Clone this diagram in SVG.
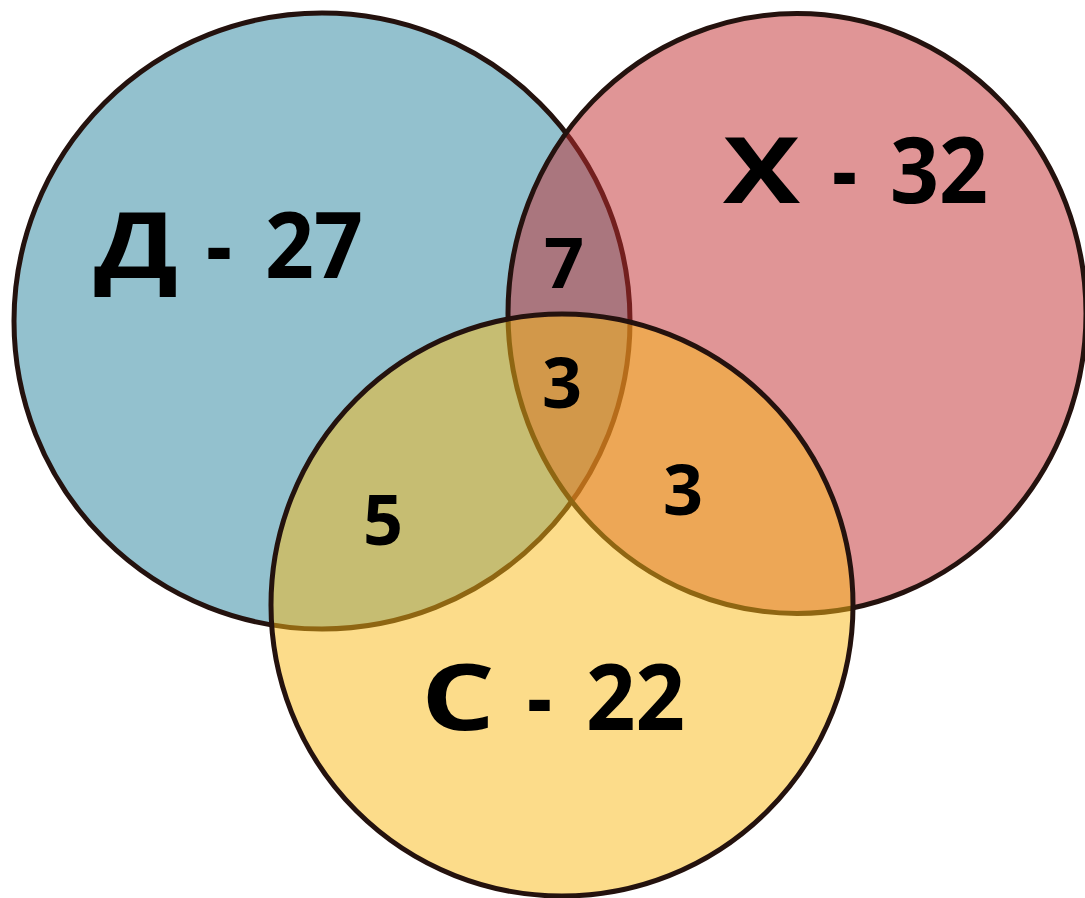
<svg xmlns="http://www.w3.org/2000/svg" width="1085" height="898" viewBox="0 0 1085 898">
<style>
.c{stroke:#24120e;stroke-width:5}
.big{font-family:"Open Sans","DejaVu Sans",sans-serif;font-weight:700;font-size:92px;fill:#000}
.num{font-family:"Open Sans","DejaVu Sans",sans-serif;font-weight:700;font-size:70px;fill:#000;text-anchor:middle}
</style>
<rect width="1085" height="898" fill="#ffffff"/>
<g id="set-d">
<circle class="c" cx="322" cy="321" r="308" fill="#93c1ce"/>
</g>
<g id="set-x">
<ellipse class="c" cx="797" cy="313.5" rx="289" ry="300" fill="#c12b2d" fill-opacity="0.5"/>
</g>
<g id="set-c">
<circle class="c" cx="562" cy="605" r="291" fill="#f9b915" fill-opacity="0.5"/>
</g>
<g id="labels">
<text class="big" y="278"><tspan x="94" textLength="84" lengthAdjust="spacingAndGlyphs">Д</tspan> <tspan x="206" textLength="26" lengthAdjust="spacingAndGlyphs">-</tspan> <tspan x="265" textLength="98" lengthAdjust="spacingAndGlyphs">27</tspan></text>
<text class="big" y="203"><tspan x="723" textLength="77" lengthAdjust="spacingAndGlyphs">Х</tspan> <tspan x="832" textLength="25" lengthAdjust="spacingAndGlyphs">-</tspan> <tspan x="890" textLength="98" lengthAdjust="spacingAndGlyphs">32</tspan></text>
<text class="big" y="730"><tspan x="421" textLength="74" lengthAdjust="spacingAndGlyphs">С</tspan> <tspan x="527" textLength="25" lengthAdjust="spacingAndGlyphs">-</tspan> <tspan x="586" textLength="99" lengthAdjust="spacingAndGlyphs">22</tspan></text>
<text class="num" x="564" y="288">7</text>
<text class="num" x="562" y="408">3</text>
<text class="num" x="683" y="515">3</text>
<text class="num" x="383" y="545">5</text>
</g>
</svg>
